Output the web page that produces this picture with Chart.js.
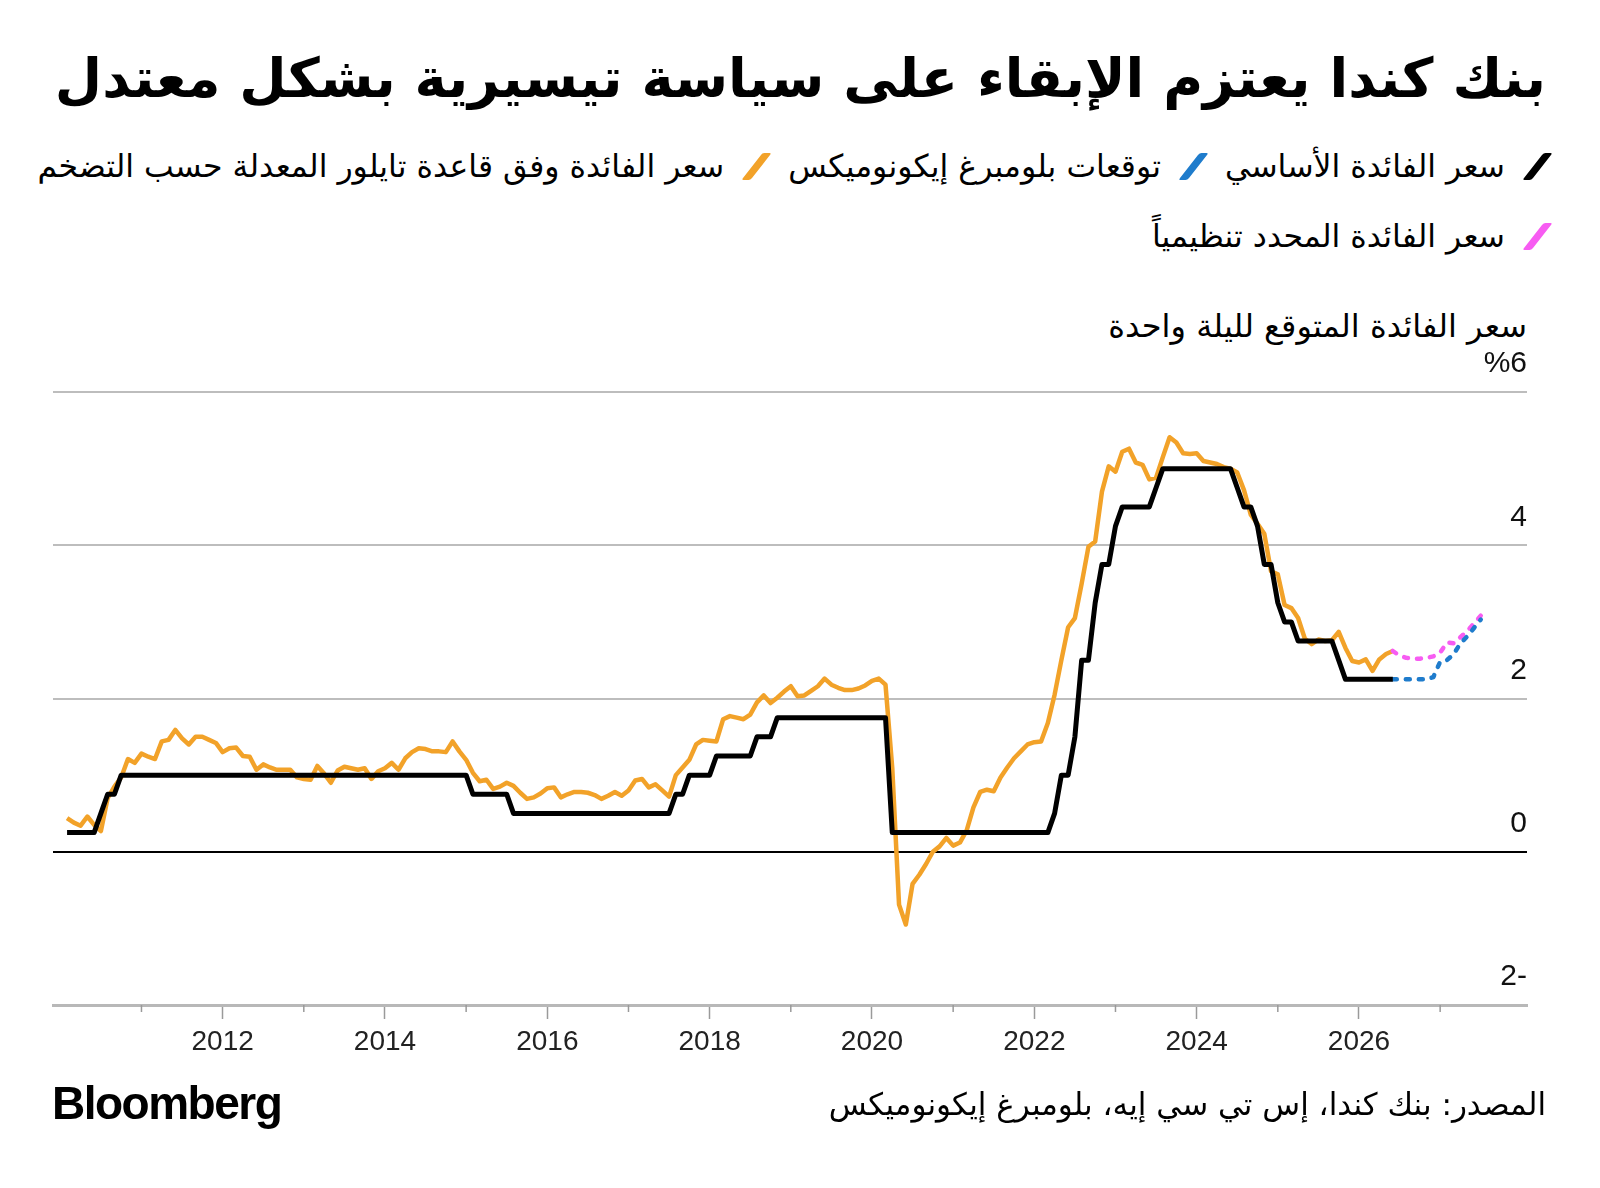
<!DOCTYPE html>
<html lang="ar">
<head>
<meta charset="utf-8">
<script src="https://cdn.jsdelivr.net/npm/chart.js@4.4.1/dist/chart.umd.min.js"></script>
<style>
  html, body { margin: 0; padding: 0; background: #fff; }
  body { width: 1600px; height: 1188px; position: relative; overflow: hidden; font-family: "DejaVu Sans", sans-serif; color: #000; }
  #chart { position: absolute; left: 0; top: 0; }
  .title { position: absolute; right: 54px; top: 46px; font-size: 54.5px; font-weight: bold; direction: rtl; white-space: nowrap; }
  .legend-row { position: absolute; right: 58px; direction: rtl; display: flex; align-items: center; font-size: 31.5px; white-space: nowrap; }
  .legend-item { display: flex; align-items: center; margin-left: 27px; }
  .swatch { display: inline-block; width: 9px; height: 27px; transform: skewX(-38deg); margin-left: 28px; border-radius: 2px; }
  .ytitle { position: absolute; right: 73px; top: 307px; font-size: 32px; direction: rtl; white-space: nowrap; }
  .brand { position: absolute; left: 52px; top: 1076px; font-family: "Liberation Sans", sans-serif; font-weight: bold; font-size: 46px; letter-spacing: -1.5px; }
  .source { position: absolute; right: 54px; top: 1086px; font-size: 31px; direction: rtl; white-space: nowrap; }
</style>
</head>
<body>
<div class="title">بنك كندا يعتزم الإبقاء على سياسة تيسيرية بشكل معتدل</div>
<div class="legend-row" id="legend1" style="top:148px"></div>
<div class="legend-row" id="legend2" style="top:218px"></div>
<div class="ytitle">سعر الفائدة المتوقع لليلة واحدة</div>
<canvas id="chart" width="1600" height="1188"></canvas>
<div class="brand">Bloomberg</div>
<div class="source">المصدر: بنك كندا، إس تي سي إيه، بلومبرغ إيكونوميكس</div>
<script>
// monthly series, first value = Jan 2010 (month-end)
const firstYear = 2010;

const policyRate = [
  0.25, 0.25, 0.25, 0.25, 0.25, 0.5, 0.75, 0.75, 1, 1, 1, 1,          // 2010
  1, 1, 1, 1, 1, 1, 1, 1, 1, 1, 1, 1,                                  // 2011
  1, 1, 1, 1, 1, 1, 1, 1, 1, 1, 1, 1,                                  // 2012
  1, 1, 1, 1, 1, 1, 1, 1, 1, 1, 1, 1,                                  // 2013
  1, 1, 1, 1, 1, 1, 1, 1, 1, 1, 1, 1,                                  // 2014
  0.75, 0.75, 0.75, 0.75, 0.75, 0.75, 0.5, 0.5, 0.5, 0.5, 0.5, 0.5,   // 2015
  0.5, 0.5, 0.5, 0.5, 0.5, 0.5, 0.5, 0.5, 0.5, 0.5, 0.5, 0.5,         // 2016
  0.5, 0.5, 0.5, 0.5, 0.5, 0.5, 0.75, 0.75, 1, 1, 1, 1,               // 2017
  1.25, 1.25, 1.25, 1.25, 1.25, 1.25, 1.5, 1.5, 1.5, 1.75, 1.75, 1.75, // 2018
  1.75, 1.75, 1.75, 1.75, 1.75, 1.75, 1.75, 1.75, 1.75, 1.75, 1.75, 1.75, // 2019
  1.75, 1.75, 0.25, 0.25, 0.25, 0.25, 0.25, 0.25, 0.25, 0.25, 0.25, 0.25, // 2020
  0.25, 0.25, 0.25, 0.25, 0.25, 0.25, 0.25, 0.25, 0.25, 0.25, 0.25, 0.25, // 2021
  0.25, 0.25, 0.5, 1, 1, 1.5, 2.5, 2.5, 3.25, 3.75, 3.75, 4.25,       // 2022
  4.5, 4.5, 4.5, 4.5, 4.5, 4.75, 5, 5, 5, 5, 5, 5,                     // 2023
  5, 5, 5, 5, 5, 4.75, 4.5, 4.5, 4.25, 3.75, 3.75, 3.25,              // 2024
  3, 3, 2.75, 2.75, 2.75, 2.75, 2.75, 2.75, 2.5, 2.25, 2.25, 2.25,    // 2025
  2.25, 2.25, 2.25, 2.25, 2.25                                         // 2026 Jan-May
];

const taylorRate = [
  0.44, 0.38, 0.34, 0.46, 0.35, 0.27, 0.70, 0.85, 0.97, 1.21, 1.16, 1.28, // 2010
  1.24, 1.21, 1.44, 1.46, 1.59, 1.48, 1.40, 1.50, 1.50, 1.46, 1.42, 1.30, // 2011
  1.35, 1.36, 1.25, 1.24, 1.07, 1.14, 1.10, 1.07, 1.07, 1.07, 0.97, 0.95, // 2012
  0.94, 1.12, 1.02, 0.90, 1.06, 1.11, 1.09, 1.07, 1.09, 0.95, 1.05, 1.09, // 2013
  1.16, 1.07, 1.22, 1.30, 1.35, 1.34, 1.31, 1.31, 1.30, 1.44, 1.31, 1.20, // 2014
  1.03, 0.92, 0.94, 0.82, 0.85, 0.90, 0.86, 0.77, 0.69, 0.71, 0.76, 0.83, // 2015
  0.84, 0.71, 0.75, 0.78, 0.78, 0.77, 0.74, 0.69, 0.73, 0.78, 0.73, 0.80, // 2016
  0.93, 0.95, 0.84, 0.88, 0.80, 0.72, 1.00, 1.10, 1.20, 1.40, 1.46, 1.45, // 2017
  1.44, 1.73, 1.77, 1.75, 1.73, 1.79, 1.95, 2.04, 1.94, 2.01, 2.09, 2.16, // 2018
  2.03, 2.04, 2.10, 2.16, 2.26, 2.18, 2.14, 2.11, 2.11, 2.13, 2.17, 2.23, // 2019
  2.26, 2.18, 1.09, -0.69, -0.95, -0.42, -0.30, -0.16, 0.00, 0.07, 0.18, 0.08, // 2020
  0.12, 0.28, 0.58, 0.78, 0.81, 0.79, 0.97, 1.10, 1.22, 1.31, 1.40, 1.43, // 2021
  1.44, 1.68, 2.05, 2.50, 2.93, 3.05, 3.50, 3.98, 4.05, 4.70, 5.03, 4.96, // 2022
  5.22, 5.26, 5.08, 5.05, 4.86, 4.88, 5.15, 5.41, 5.34, 5.20, 5.19, 5.20, // 2023
  5.10, 5.08, 5.06, 5.02, 5.00, 4.95, 4.72, 4.40, 4.28, 4.15, 3.66, 3.62, // 2024
  3.22, 3.18, 3.05, 2.78, 2.71, 2.77, 2.75, 2.76, 2.87, 2.66, 2.49, 2.47, // 2025
  2.51, 2.36, 2.51, 2.58, 2.62                                            // 2026 Jan-May
];

// May 2026 .. Jun 2027
const forecastStart = 196;
const bloombergForecast = [2.25, 2.25, 2.25, 2.25, 2.25, 2.25, 2.28, 2.48, 2.50, 2.58, 2.72, 2.81, 2.92, 3.03];
const marketImplied = [2.62, 2.56, 2.53, 2.52, 2.52, 2.53, 2.55, 2.60, 2.73, 2.72, 2.80, 2.88, 2.98, 3.08];

const yTicks = [-2, 0, 2, 4, 6];
const yTickLabels = ['2-', '0', '2', '4', '%6'];
const yearTicks = [2012, 2014, 2016, 2018, 2020, 2022, 2024, 2026];
const minorYears = [2011, 2013, 2015, 2017, 2019, 2021, 2023, 2025, 2027];

const seriesNames = {
    policy: 'سعر الفائدة الأساسي',
    forecast: 'توقعات بلومبرغ إيكونوميكس',
    taylor: 'سعر الفائدة وفق قاعدة تايلور المعدلة حسب التضخم',
    market: 'سعر الفائدة المحدد تنظيمياً'
};
const colors = { policy: '#000000', forecast: '#1f7ccc', taylor: '#f2a229', market: '#f75cf2' };

const toPoints = (vals, start) => vals.map((v, i) => ({ x: firstYear + (start + i + 1) / 12, y: v }));

// legend (html, right to left)
const addLegend = (rowId, keys) => {
    const row = document.getElementById(rowId);
    keys.forEach(k => {
        const item = document.createElement('div');
        item.className = 'legend-item';
        item.innerHTML = `<span class="swatch" style="background:${colors[k]}"></span><span>${seriesNames[k]}</span>`;
        row.appendChild(item);
    });
};
addLegend('legend1', ['policy', 'forecast', 'taylor']);
addLegend('legend2', ['market']);

const minorTicks = {
    id: 'minorTicks',
    afterDraw(chart) {
        const xs = chart.scales.x;
        const ctx = chart.ctx;
        ctx.save();
        ctx.strokeStyle = '#9a9a9a';
        ctx.lineWidth = 1.5;
        minorYears.forEach(yr => {
            const px = xs.getPixelForValue(yr);
            ctx.beginPath();
            ctx.moveTo(px, xs.top);
            ctx.lineTo(px, xs.top + 7);
            ctx.stroke();
        });
        ctx.restore();
    }
};

const lineBase = { pointRadius: 0, tension: 0, fill: false, borderJoinStyle: 'round' };

new Chart(document.getElementById('chart').getContext('2d'), {
    type: 'line',
    data: {
        datasets: [
            { ...lineBase, label: seriesNames.policy, data: toPoints(policyRate, 0), borderColor: colors.policy, borderWidth: 5 },
            { ...lineBase, label: seriesNames.forecast, data: toPoints(bloombergForecast, forecastStart), borderColor: colors.forecast, borderWidth: 4.5, borderDash: [4, 9], borderCapStyle: 'round' },
            { ...lineBase, label: seriesNames.market, data: toPoints(marketImplied, forecastStart), borderColor: colors.market, borderWidth: 4.5, borderDash: [4, 9], borderCapStyle: 'round' },
            { ...lineBase, label: seriesNames.taylor, data: toPoints(taylorRate, 0), borderColor: colors.taylor, borderWidth: 4.5 }
        ]
    },
    options: {
        responsive: false,
        animation: false,
        layout: { padding: { left: 53, right: 73, top: 392, bottom: 123 } },
        plugins: { legend: { display: false }, tooltip: { enabled: false } },
        scales: {
            x: {
                type: 'linear',
                min: 2009.91,
                max: 2028.07,
                afterBuildTicks: s => { s.ticks = yearTicks.map(v => ({ value: v })); },
                afterFit: s => { s.height = 60; },
                grid: { drawOnChartArea: false, tickLength: 14, tickColor: '#9a9a9a', tickWidth: 1.5 },
                border: { color: '#b8b8b8', width: 3 },
                ticks: {
                    callback: v => String(v),
                    autoSkip: false,
                    maxRotation: 0,
                    padding: 6,
                    color: '#222',
                    font: { family: 'Liberation Sans', size: 28 }
                }
            },
            y: {
                position: 'right',
                min: -2,
                max: 6,
                afterBuildTicks: s => { s.ticks = yTicks.map(v => ({ value: v })); },
                afterFit: s => { s.width = 0; },
                grid: {
                    drawTicks: false,
                    color: c => (c.tick && c.tick.value === 0 ? '#000' : '#bdbdbd'),
                    lineWidth: 2
                },
                border: { display: false },
                ticks: {
                    mirror: true,
                    padding: 0,
                    labelOffset: -28,
                    callback: (v, i) => yTickLabels[i],
                    color: '#111',
                    font: { family: 'Liberation Sans', size: 30 }
                }
            }
        }
    },
    plugins: [minorTicks]
});
</script>
</body>
</html>
